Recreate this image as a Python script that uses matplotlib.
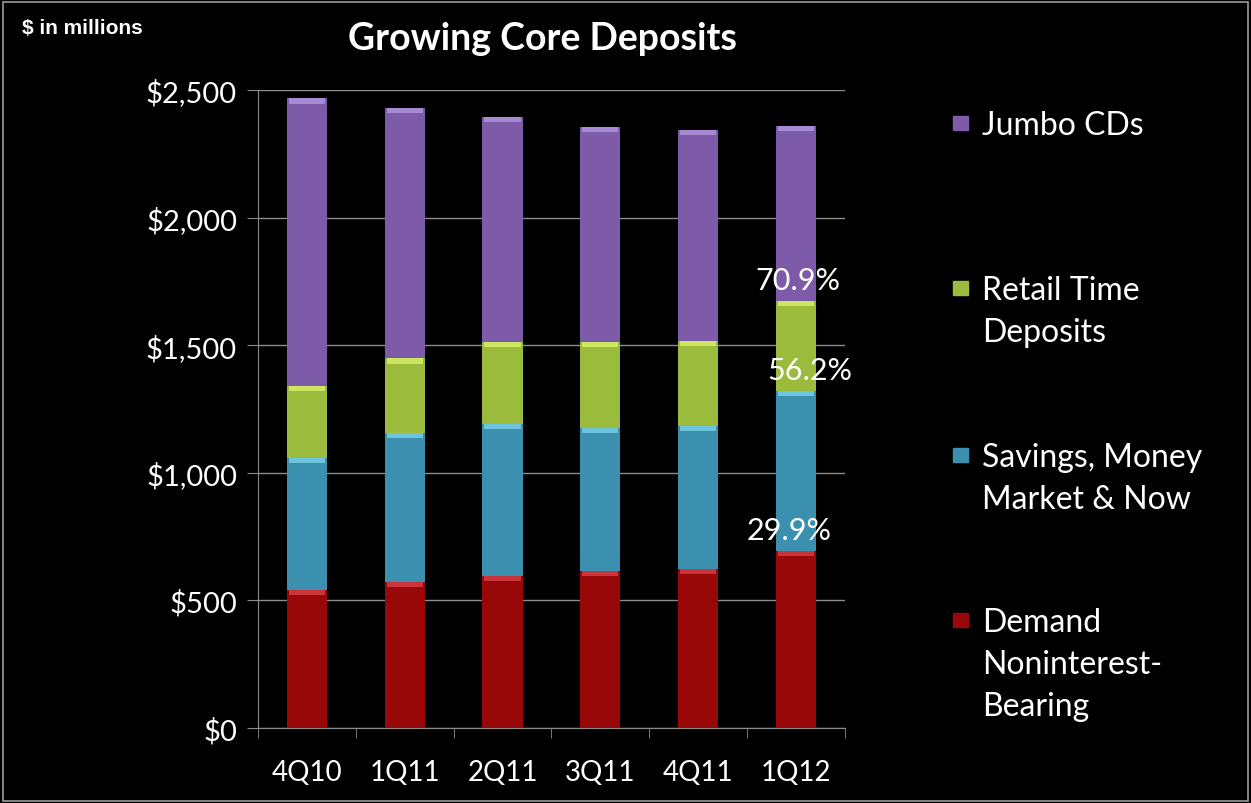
import numpy as np
import matplotlib
matplotlib.use("Agg")
import matplotlib.pyplot as plt
from matplotlib.patches import Rectangle
from matplotlib.ticker import FuncFormatter, FixedLocator

# data ($ in millions)
quarters = ["4Q10", "1Q11", "2Q11", "3Q11", "4Q11", "1Q12"]
demand = [542, 573, 597, 617, 623, 695]
savings = [517, 582, 593, 560, 561, 626]
retail = [282, 293, 321, 334, 333, 354]
jumbo = [1126, 983, 885, 845, 827, 685]
series_names = ["Demand\nNoninterest-\nBearing", "Savings, Money\nMarket & Now",
                "Retail Time\nDeposits", "Jumbo CDs"]
pct_labels = ["29.9%", "56.2%", "70.9%"]  # cumulative share in 1Q12

colors = ["#980808", "#3a90ae", "#9bbb3c", "#7d5ba8"]
tops = ["#d84048", "#7cd0ea", "#dcf06c", "#b296e0"]

plt.rcParams['font.family'] = ['Lato', 'DejaVu Sans']

fig = plt.figure(figsize=(12.51, 8.04), dpi=100, facecolor="black")
ax = fig.add_axes([0.2062, 0.0933, 0.4692, 0.7935])
ax.set_facecolor("black")

x = np.arange(len(quarters))
width = 0.41
bottom = np.zeros(len(quarters))
layers = [demand, savings, retail, jumbo]
for vals, c, tc in zip(layers, colors, tops):
    vals = np.array(vals, dtype=float)
    ax.bar(x, vals, width, bottom=bottom, color=c, zorder=3)
    # bevel highlight at top of each segment
    ax.bar(x, np.full(len(x), 20.0), width * 0.9, bottom=bottom + vals - 20,
           color=tc, alpha=0.8, zorder=4)
    bottom = bottom + vals

# percentage labels on last bar
cum = np.cumsum([demand[-1], savings[-1], retail[-1]])
offsets = [-5, 10, 1]
for lab, yv, dx in zip(pct_labels, cum, offsets):
    ax.annotate(lab, (x[-1], yv), xytext=(dx, 5), textcoords="offset points",
                ha="center", va="bottom", color="white", fontsize=22, zorder=5)

ax.set_xlim(-0.5, len(quarters) - 0.5)
ax.set_ylim(0, 2500)
ax.set_yticks(np.arange(0, 2501, 500))
ax.yaxis.set_major_formatter(FuncFormatter(lambda v, p: "${:,.0f}".format(v)))
ax.grid(axis="y", color="#8c8c8c", lw=1, zorder=0)
ax.set_xticks(x)
ax.set_xticklabels(quarters)
ax.xaxis.set_minor_locator(FixedLocator(np.arange(-0.5, len(quarters), 1.0)))
ax.tick_params(axis="x", which="major", length=0, pad=22, labelsize=20, colors="white")
ax.tick_params(axis="x", which="minor", length=7, color="#8c8c8c", direction="out")
ax.tick_params(axis="y", length=8, color="#8c8c8c", labelsize=21, colors="white", pad=7)
for s in ["top", "right"]:
    ax.spines[s].set_visible(False)
for s in ["left", "bottom"]:
    ax.spines[s].set_color("#8c8c8c")

# legend drawn by hand, Jumbo at top
leg_y = [125, 290, 457, 622]
for name, c, yy in zip(series_names[::-1], colors[::-1], leg_y):
    fig.patches.append(Rectangle((953 / 1251, 1 - (yy + 6) / 804), 15 / 1251, 14 / 804,
                                 transform=fig.transFigure, color=c, figure=fig))
    fig.text(982 / 1251, 1 - (yy - 14) / 804, name, color="white", fontsize=23,
             va="top", ha="left", linespacing=1.5)

fig.text(543 / 1251, 1 - 39 / 804, "Growing Core Deposits", color="white", fontsize=27,
         fontweight="bold", ha="center", va="center")
fig.text(22 / 1251, 1 - 28 / 804, "$ in millions", color="white", fontsize=15,
         fontweight="bold", ha="left", va="center", family="Liberation Sans")

# thin frame around the picture
fig.patches.append(Rectangle((0.002, 0.003), 0.996, 0.993, transform=fig.transFigure,
                             fill=False, edgecolor="#9a9a9a", lw=1.2, figure=fig))

fig.savefig("out.png", dpi=100, facecolor="black")
